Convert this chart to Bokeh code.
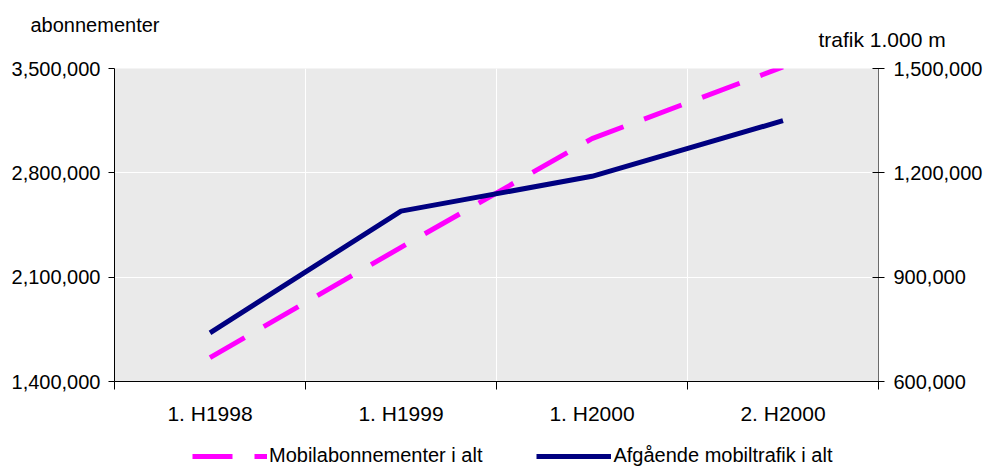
from bokeh.plotting import figure
from bokeh.layouts import column
from bokeh.models import (Range1d, LinearAxis, FixedTicker, NumeralTickFormatter,
                          Label, Legend, LegendItem, ColumnDataSource)
from bokeh.embed import file_html
from bokeh.resources import INLINE

# Half-year periods and the two series
periods = ["1. H1998", "1. H1999", "1. H2000", "2. H2000"]
subscriptions = [1560000, 2300000, 3030000, 3510000]   # left axis: abonnementer
traffic = [740000, 1090000, 1190000, 1350000]          # right axis: trafik 1.000 m
series_names = ["Mobilabonnementer i alt", "Afgående mobiltrafik i alt"]

left_ticks = [1400000, 2100000, 2800000, 3500000]
right_ticks = [600000, 900000, 1200000, 1500000]

FONT = "Liberation Sans"
FS = "20px"
SUBS_STYLE = dict(line_color="#FF00FF", line_width=5, line_dash="40 22")
TRAF_STYLE = dict(line_color="#000080", line_width=5)

x_pos = [i + 0.5 for i in range(len(periods))]
src = ColumnDataSource(dict(x=x_pos, subs=subscriptions, traf=traffic))

p = figure(width=985, height=440, output_backend="svg", toolbar_location=None,
           x_range=Range1d(0, len(periods)),
           y_range=Range1d(left_ticks[0], left_ticks[-1]),
           min_border_left=114, min_border_right=107,
           min_border_top=68, min_border_bottom=59)
p.extra_y_ranges = {"traffic": Range1d(right_ticks[0], right_ticks[-1])}

p.background_fill_color = "#EAEAEA"
p.border_fill_color = "white"
p.outline_line_color = None

# bottom axis: labels at period centres, tick marks at period boundaries
xa = p.xaxis[0]
xa.ticker = FixedTicker(ticks=x_pos, minor_ticks=list(range(len(periods) + 1)))
xa.major_label_overrides = {x: lab for x, lab in zip(x_pos, periods)}
xa.major_tick_line_color = None
xa.major_tick_in = 0
xa.major_tick_out = 0
xa.minor_tick_line_color = "black"
xa.minor_tick_in = 0
xa.minor_tick_out = 8
xa.axis_line_color = "black"
xa.major_label_standoff = 12
xa.major_label_text_font = FONT
xa.major_label_text_font_size = "21px"
xa.major_label_text_color = "black"

# left axis
ya = p.yaxis[0]
ya.ticker = FixedTicker(ticks=left_ticks)
ya.formatter = NumeralTickFormatter(format="0,0")
ya.minor_tick_line_color = None
ya.major_tick_in = 0
ya.major_tick_out = 6
ya.major_label_standoff = 8
ya.axis_line_color = "black"
ya.major_tick_line_color = "black"
ya.major_label_text_font = FONT
ya.major_label_text_font_size = FS
ya.major_label_text_color = "black"

# right axis
ra = LinearAxis(y_range_name="traffic", ticker=FixedTicker(ticks=right_ticks),
                formatter=NumeralTickFormatter(format="0,0"))
ra.minor_tick_line_color = None
ra.major_tick_in = 6
ra.major_tick_out = 6
ra.major_label_standoff = 9
ra.axis_line_color = "#6b6b6b"
ra.major_tick_line_color = "black"
ra.major_label_text_font = FONT
ra.major_label_text_font_size = FS
ra.major_label_text_color = "black"
p.add_layout(ra, "right")

# white grid
p.xgrid[0].ticker = FixedTicker(ticks=list(range(1, len(periods))))
p.xgrid[0].grid_line_color = "white"
p.xgrid[0].grid_line_width = 1
p.ygrid[0].ticker = FixedTicker(ticks=left_ticks[1:-1])
p.ygrid[0].grid_line_color = "white"
p.ygrid[0].grid_line_width = 1

p.line("x", "subs", source=src, **SUBS_STYLE)
p.line("x", "traf", source=src, y_range_name="traffic", **TRAF_STYLE)

# axis captions above the plot area
p.add_layout(Label(x=-84, y=44, x_units="screen", y_units="screen",
                   text="abonnementer", text_font=FONT, text_font_size="20px",
                   text_baseline="alphabetic", text_color="black"), "above")
p.add_layout(Label(x=704, y=7, x_units="screen", y_units="screen",
                   text="trafik 1.000 m", text_font=FONT, text_font_size="21px",
                   text_baseline="alphabetic", text_color="black"), "above")

# legend strip underneath the chart; its key lines use the same series,
# which fall outside this strip's ranges so only the legend keys show
lg = figure(width=985, height=27, output_backend="svg", toolbar_location=None,
            x_range=Range1d(0, 1), y_range=Range1d(0, 1),
            min_border=0, outline_line_color=None)
lg.axis.visible = False
lg.grid.visible = False
key_subs = lg.line("x", "subs", source=src, **SUBS_STYLE)
key_traf = lg.line("x", "traf", source=src, **TRAF_STYLE)
legend = Legend(items=[LegendItem(label=series_names[0], renderers=[key_subs]),
                       LegendItem(label=series_names[1], renderers=[key_traf])],
                orientation="horizontal", location=(78, 0),
                glyph_width=75, glyph_height=20, label_standoff=2, spacing=54,
                padding=0, margin=0, border_line_color=None,
                background_fill_alpha=0,
                label_text_font=FONT, label_text_font_size=FS,
                label_text_color="black")
lg.add_layout(legend, "center")

open("out.html", "w").write(file_html(column(p, lg, spacing=0), INLINE))
